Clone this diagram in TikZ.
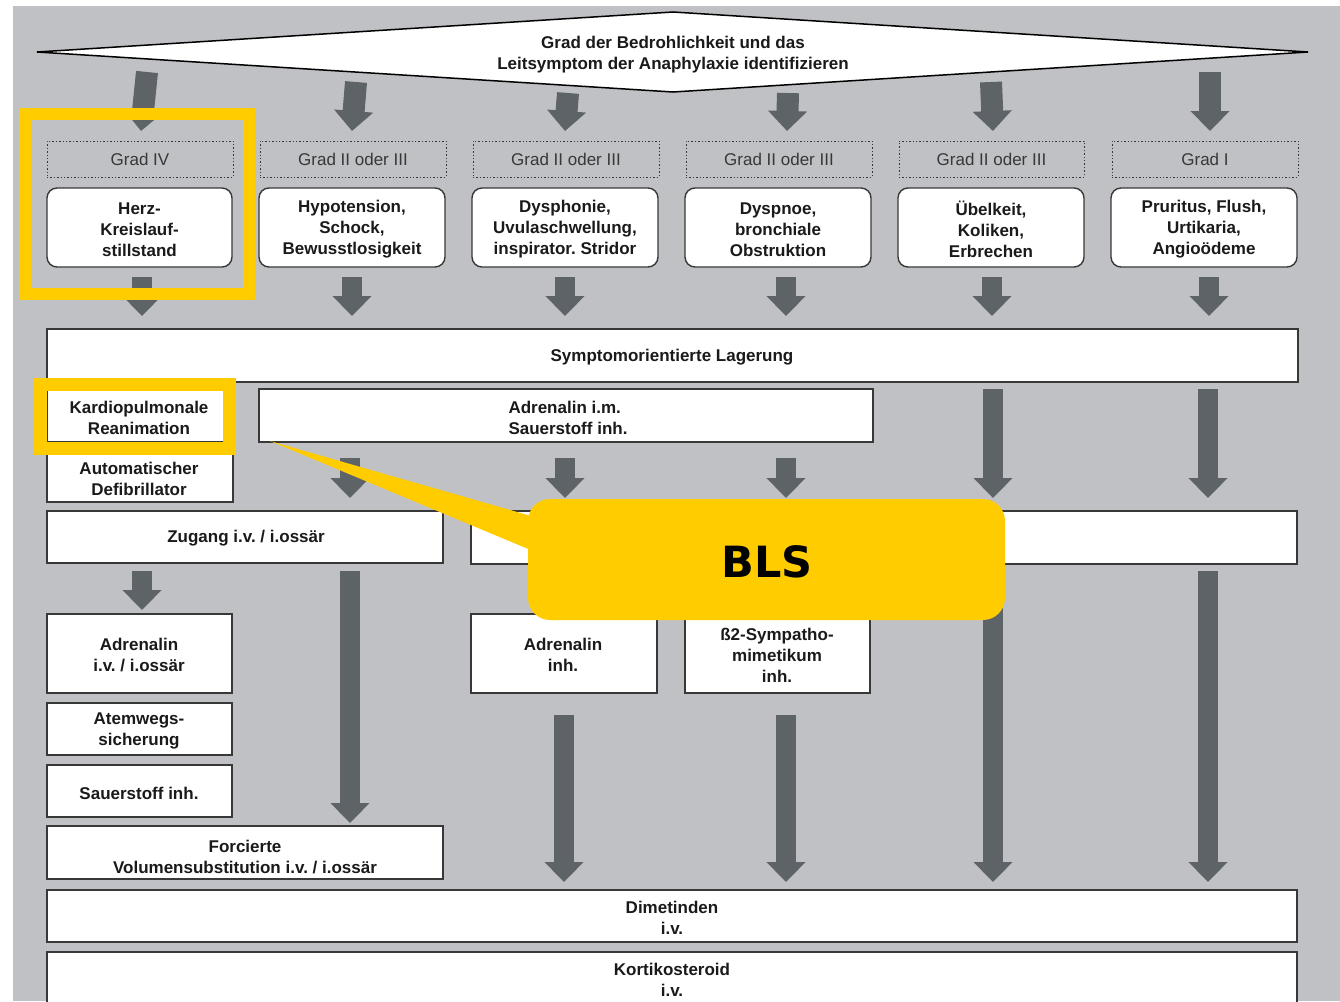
\documentclass[tikz,border=0pt]{standalone}
\usepackage{fontspec}
\setmainfont{Liberation Sans}
\newfontfamily\calloutfont{DejaVu Sans}
\usetikzlibrary{arrows.meta}
\definecolor{bggray}{HTML}{C0C1C4}
\definecolor{arrowgray}{HTML}{5E6367}
\definecolor{edgegray}{HTML}{383838}
\definecolor{ink}{HTML}{1A1A1A}
\definecolor{gradink}{HTML}{383838}
\definecolor{hilite}{HTML}{FFCC00}

% box given by its corners: [style] name x1 y1 x2 y2 text
\newcommand{\flowbox}[7][]{%
  \node[box,#1,minimum width={#5-#3},minimum height={#6-#4}] (#2)
    at ({(#3+#5)/2},{(#4+#6)/2}) {#7};}
% block arrow between two named coordinates
\newcommand{\blockarrow}[6][]{%
  \coordinate (#2s) at (#3,#4);
  \coordinate (#2e) at (#5,#6);
  \draw[fatarrow,#1] (#2s) -- (#2e);}

\begin{document}
\frenchspacing
\begin{tikzpicture}[x=1pt,y=-1pt,
  txt/.style={font=\fontsize{17}{21}\selectfont\bfseries\frenchspacing,text=ink,align=center},
  box/.style={txt,draw=edgegray,line width=1.4pt,fill=white,inner sep=0pt},
  roundbox/.style={rounded corners=10pt},
  gradbox/.style={draw=edgegray,dotted,line width=1pt,fill=none,
    font=\fontsize{17}{21}\selectfont,text=gradink},
  fatarrow/.style={draw=arrowgray,line width=20pt,
    -{Triangle[length=20pt,width=38pt]}},
  frame/.style={draw=hilite,line width=12pt}]

\useasboundingbox (0,0) rectangle (1340,1001);
\clip (0,0) rectangle (1340,1001);
\fill[white] (0,0) rectangle (1340,1001);
\fill[bggray] (13,6) rectangle (1340,1001);

% banner
\draw[fill=white,draw=black,line width=1.5pt]
  (37,52) -- (673,12) -- (1308,52) -- (673,92) -- cycle;
\node[txt] (head) at (673,55)
  {Grad der Bedrohlichkeit und das\\Leitsymptom der Anaphylaxie identifizieren};

% arrows from the banner
\blockarrow[line width=22pt]{t1}{147}{72}{141}{131}
\blockarrow[line width=22pt]{t2}{356}{82}{352}{131}
\blockarrow[line width=22pt]{t3}{568}{93}{565}{131}
\blockarrow[line width=22pt]{t4}{788}{93}{787}{131}
\blockarrow[line width=22pt]{t5}{991}{82}{993}{131}
\blockarrow[line width=22pt]{t6}{1210}{72}{1210}{131}

% severity grades
\flowbox[gradbox]{g1}{47}{141}{233}{177}{Grad IV}
\flowbox[gradbox]{g2}{260}{141}{446}{177}{Grad II oder III}
\flowbox[gradbox]{g3}{473}{141}{659}{177}{Grad II oder III}
\flowbox[gradbox]{g4}{686}{141}{872}{177}{Grad II oder III}
\flowbox[gradbox]{g5}{899}{141}{1084}{177}{Grad II oder III}
\flowbox[gradbox]{g6}{1112}{141}{1298}{177}{Grad I}

% leading symptoms
\flowbox[roundbox]{s1}{47}{188}{232}{267}{}
\flowbox[roundbox]{s2}{259}{188}{445}{267}{}
\flowbox[roundbox]{s3}{472}{188}{658}{267}{}
\flowbox[roundbox]{s4}{685}{188}{871}{267}{}
\flowbox[roundbox]{s5}{898}{188}{1084}{267}{}
\flowbox[roundbox]{s6}{1111}{188}{1297}{267}{}
\node[txt] (s1t) at (s1) [yshift=-2pt] {Herz-\\Kreislauf-\\stillstand};
\node[txt] (s2t) at (s2) [yshift=-2pt] {Hypotension,\\Schock,\\Bewusstlosigkeit};
\node[txt] (s3t) at (s3) [yshift=-2pt] {Dysphonie,\\Uvulaschwellung,\\inspirator. Stridor};
\node[txt] (s4t) at (s4) [yshift=-2pt] {Dyspnoe,\\bronchiale\\Obstruktion};
\node[txt] (s5t) at (s5) [yshift=-2pt] {Übelkeit,\\Koliken,\\Erbrechen};
\node[txt] (s6t) at (s6) [yshift=-2pt] {Pruritus, Flush,\\Urtikaria,\\Angioödeme};

% arrows to positioning
\blockarrow{m1}{142}{277}{142}{316}
\blockarrow{m2}{352}{277}{352}{316}
\blockarrow{m3}{565}{277}{565}{316}
\blockarrow{m4}{786}{277}{786}{316}
\blockarrow{m5}{992}{277}{992}{316}
\blockarrow{m6}{1209}{277}{1209}{316}

\flowbox{lager}{47}{329}{1298}{382}{}
\node[txt] (lagert) at (672,357) {Symptomorientierte Lagerung};

% second stage
\flowbox{cpr}{47}{390}{233}{442}{}
\node[txt] (cprt) at (139,418) {Kardiopulmonale\\Reanimation};
\flowbox{aed}{47}{442}{233}{502}{}
\node[txt] (aedt) at (139,479) {Automatischer\\Defibrillator};
\flowbox{adrim}{259}{389}{873}{442}{}
\node[txt,align=left] (adrimt) at (568,418) {Adrenalin i.m.\\Sauerstoff inh.};

\blockarrow{n2}{350}{458}{350}{498}
\blockarrow{n3}{565}{458}{565}{498}
\blockarrow{n4}{786}{458}{786}{498}
\blockarrow{n5}{993}{389}{993}{498}
\blockarrow{n6}{1208}{389}{1208}{498}

\flowbox{zugang}{47}{511}{443}{563}{}
\node[txt] (zugangt) at (246,538) {Zugang i.v. / i.ossär};
\flowbox{rowright}{471}{511}{1297}{564}{}

\blockarrow{p1}{142}{571}{142}{610}
\blockarrow{p2}{350}{571}{350}{823}
\blockarrow{p5}{993}{571}{993}{882}
\blockarrow{p6}{1208}{571}{1208}{882}

\flowbox{adriv}{47}{614}{232}{693}{}
\node[txt] (adrivt) at (139,655) {Adrenalin\\i.v. / i.ossär};
\flowbox{airway}{47}{703}{232}{755}{}
\node[txt] (airwayt) at (139,731) {Atemwegs-\\sicherung};
\flowbox{oxy}{47}{765}{232}{817}{}
\node[txt] (oxyt) at (139,793) {Sauerstoff inh.};
\flowbox{volume}{47}{826}{443}{879}{}
\node[txt] (volumet) at (245,857) {Forcierte\\Volumensubstitution i.v. / i.ossär};

\flowbox{adrinh}{471}{614}{657}{693}{}
\node[txt] (adrinht) at (563,655) {Adrenalin\\inh.};
\flowbox{beta}{685}{614}{870}{693}{}
\node[txt] (betat) at (777,655) {ß2-Sympatho-\\mimetikum\\inh.};

\blockarrow{q3}{564}{715}{564}{882}
\blockarrow{q4}{786}{715}{786}{882}

\flowbox{dimet}{47}{890}{1297}{942}{}
\node[txt] (dimett) at (672,918) {Dimetinden\\i.v.};
\flowbox{kortis}{47}{952}{1297}{1006}{}
\node[txt] (kortist) at (672,980) {Kortikosteroid\\i.v.};

% highlights
\draw[frame] (25,114) rectangle (249,294);
\draw[frame,line width=13pt] (40,384) rectangle (229,448);

% callout
\fill[hilite] (270,441) -- (545,520) -- (545,556) -- cycle;
\fill[hilite,rounded corners=22pt] (528,499) rectangle (1005,620);
\node[font=\calloutfont\bfseries\fontsize{43}{50}\selectfont,text=black] (bls) at (767,562) {BLS};
\end{tikzpicture}
\end{document}
